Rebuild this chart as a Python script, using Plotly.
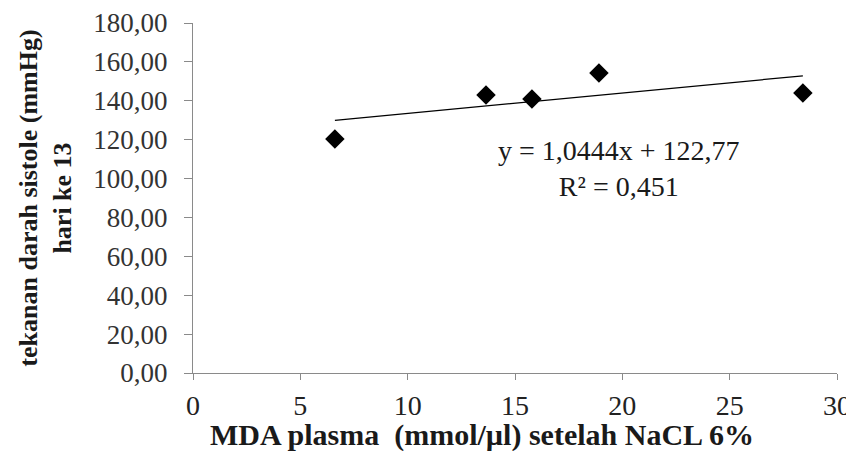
import numpy as np
import plotly.graph_objects as go

# Data
mda_plasma = [6.61, 13.65, 15.79, 18.91, 28.41]
systolic_bp = [120.4, 143.0, 140.9, 154.3, 144.0]

eq_text = "y = 1,0444x + 122,77"
r2_text = "R² = 0,451"
x_title = "MDA plasma  (mmol/µl) setelah NaCL 6%"
y_title = "tekanan darah sistole (mmHg)<br>hari ke 13"
x_ticks = [0, 5, 10, 15, 20, 25, 30]
y_ticks = [0, 20, 40, 60, 80, 100, 120, 140, 160, 180]

slope, intercept = np.polyfit(mda_plasma, systolic_bp, 1)
fit_x = [min(mda_plasma), max(mda_plasma)]
fit_y = [slope * v + intercept for v in fit_x]

FONT = "Liberation Serif"

fig = go.Figure()
fig.add_trace(go.Scatter(x=fit_x, y=fit_y, mode="lines",
                         line=dict(color="black", width=1.2), showlegend=False))
fig.add_trace(go.Scatter(x=mda_plasma, y=systolic_bp, mode="markers",
                         marker=dict(symbol="diamond", size=15, color="black"),
                         showlegend=False))

fig.add_annotation(x=19.85, y=105, xref="x", yref="y",
                   text=eq_text + "<br>" + r2_text, showarrow=False,
                   font=dict(family=FONT, size=28, color="#1a1a1a"),
                   align="center")

# x-axis title (placed slightly left of the plot centre, as in the reference)
fig.add_annotation(x=0.449, y=-0.176, xref="paper", yref="paper",
                   xanchor="center", yanchor="middle",
                   text="<b>" + x_title + "</b>", showarrow=False,
                   font=dict(family=FONT, size=30, color="#1a1a1a"))

# The page body adds an 8px offset, so the figure is sized to fill the rest.
fig.update_layout(
    width=846, height=443,
    margin=dict(l=185, r=17, t=15, b=78),
    paper_bgcolor="white", plot_bgcolor="white",
    separators=",.",
    font=dict(family=FONT, size=27, color="#222222"),
    xaxis=dict(range=[0, 30], tickvals=x_ticks, showgrid=False, zeroline=False,
               automargin=False,
               showline=True, linecolor="#8a8a8a", linewidth=1.2,
               ticks="outside", ticklen=6, tickcolor="#8a8a8a",
               ticklabelstandoff=1,
               tickfont=dict(family=FONT, size=28, color="#222222")),
    yaxis=dict(range=[0, 180], tickvals=y_ticks, tickformat=".2f",
               showgrid=False, zeroline=False, automargin=False,
               showline=True, linecolor="#8a8a8a", linewidth=1.2,
               ticks="outside", ticklen=8, tickcolor="#8a8a8a",
               ticklabelstandoff=11,
               tickfont=dict(family=FONT, size=27, color="#333333"),
               title=dict(text="<b>" + y_title + "</b>", standoff=14,
                          font=dict(family=FONT, size=26, color="#1a1a1a"))),
)

fig.write_html("out.html")
